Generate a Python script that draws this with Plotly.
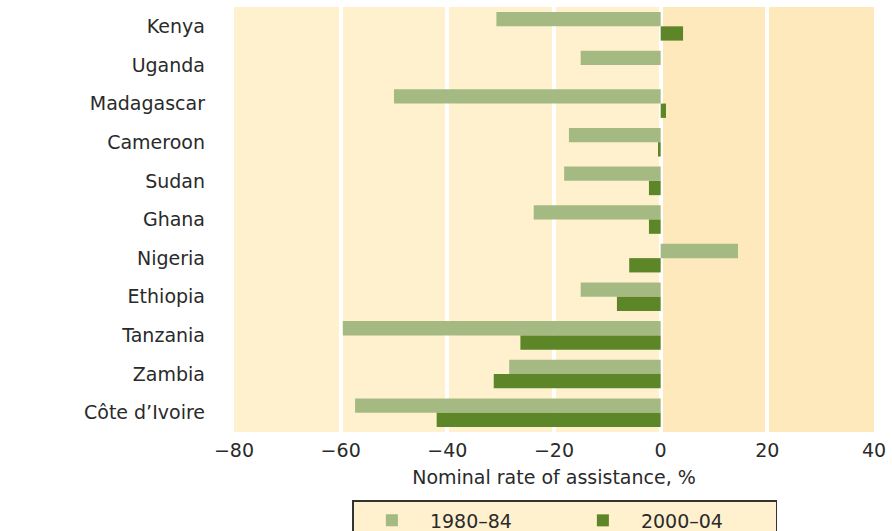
import plotly.graph_objects as go

countries = ["Kenya", "Uganda", "Madagascar", "Cameroon", "Sudan", "Ghana",
             "Nigeria", "Ethiopia", "Tanzania", "Zambia", "Côte d’Ivoire"]
nra_1980_84 = [-30.8, -15.0, -50.0, -17.2, -18.1, -23.8, 14.5, -15.0, -59.6, -28.4, -57.3]
nra_2000_04 = [4.2, 0.0, 1.0, -0.5, -2.2, -2.2, -5.9, -8.2, -26.3, -31.3, -42.0]
series_names = ["1980–84", "2000–04"]
x_ticks = [-80, -60, -40, -20, 0, 20, 40]

FONT = "DejaVu Sans"
TXT = "#2a2a2a"
FS = 19

fig = go.Figure()
fig.add_trace(go.Bar(y=countries, x=nra_1980_84, orientation="h", name=series_names[0],
                     marker=dict(color="#a4ba82", line=dict(width=0))))
fig.add_trace(go.Bar(y=countries, x=nra_2000_04, orientation="h", name=series_names[1],
                     marker=dict(color="#5c8627", line=dict(width=0))))

fig.add_shape(type="rect", xref="x", yref="paper", x0=0, x1=40, y0=0, y1=1,
              fillcolor="#fee9bd", line=dict(width=0), layer="below")

fig.update_layout(
    width=892, height=531,
    margin=dict(l=234, r=18, t=7, b=99, autoexpand=False),
    paper_bgcolor="white", plot_bgcolor="#fff0ce",
    barmode="group", bargap=0.26, bargroupgap=0,
    font=dict(family=FONT, size=FS, color=TXT),
    showlegend=True,
    legend=dict(orientation="h", x=0.517, xanchor="center", y=-0.16, yanchor="top",
                bgcolor="#fff0ce", bordercolor="#333333", borderwidth=1.5,
                font=dict(family=FONT, size=FS, color=TXT),
                itemwidth=66, entrywidth=130, traceorder="normal"),
    xaxis=dict(range=[-80, 40], tickvals=x_ticks, showgrid=True, gridcolor="white",
               gridwidth=4, zeroline=True, zerolinecolor="white", zerolinewidth=4,
               showline=False, ticks="", ticklabelstandoff=5, automargin=False,
               tickfont=dict(family=FONT, size=FS, color=TXT),
               title=dict(text="Nominal rate of assistance, %", standoff=10,
                          font=dict(family=FONT, size=FS, color=TXT))),
    yaxis=dict(autorange="reversed", showgrid=False, showline=False, ticks="",
               automargin=False,
               ticklabelstandoff=28, tickfont=dict(family=FONT, size=FS, color=TXT)),
)

fig.write_html("out.html", config={"displayModeBar": False},
               post_script="document.body.style.margin='0px';")
